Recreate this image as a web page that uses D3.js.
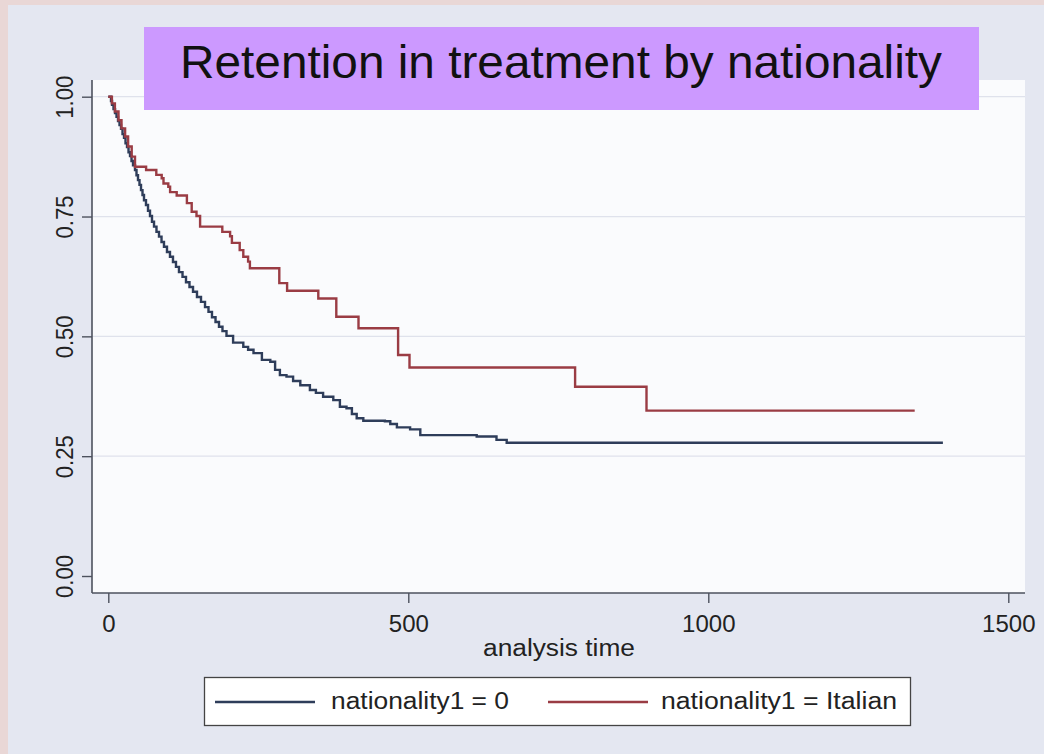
<!DOCTYPE html>
<html>
<head>
<meta charset="utf-8">
<script src="https://cdn.jsdelivr.net/npm/d3@7"></script>
<style>
html,body{margin:0;padding:0;background:#e4e7f1;}
svg{display:block;}
text{font-family:"Liberation Sans",Arial,Helvetica,sans-serif;}
</style>
</head>
<body>
<svg id="chart" width="1044" height="754"></svg>
<script>
// ---- data ----
const titleText = "Retention in treatment by nationality";
const xLabel = "analysis time";
const seriesNames = ["nationality1 = 0", "nationality1 = Italian"];
const xTicks = [0, 500, 1000, 1500];
const yTicks = [0, 0.25, 0.5, 0.75, 1];

// nationality1 = 0 : Kaplan-Meier step points (time, survival)
const blueTimes = [0, 4.5, 6.2, 8.7, 11.2, 13.7, 16.2, 18.7, 21.2, 23.7, 26.2, 28.7, 31.2, 33.7, 36.2, 38.7, 41.2, 44.5, 47, 49.5, 52, 54.5, 57, 59.5, 62.8, 66.2, 69.5, 72.8, 76.2, 80.3, 84.5, 88.7, 92.8, 97.8, 102.8, 107.8, 112.8, 117.8, 123.7, 129.5, 135.3, 141.2, 147.8, 154.5, 161.2, 167, 172.8, 178.7, 184.5, 190.3, 197, 208, 225, 233, 242, 256, 270, 278, 286, 297, 308, 320, 336, 346, 358, 375, 386, 397, 406, 414, 425, 461, 470, 481, 503, 520, 614, 647, 664, 1391];
const blueSurv  = [1, 0.991, 0.983, 0.974, 0.966, 0.958, 0.949, 0.941, 0.933, 0.922, 0.914, 0.903, 0.895, 0.884, 0.876, 0.866, 0.857, 0.847, 0.836, 0.826, 0.816, 0.805, 0.795, 0.784, 0.774, 0.762, 0.751, 0.739, 0.729, 0.718, 0.708, 0.697, 0.687, 0.676, 0.666, 0.655, 0.645, 0.634, 0.624, 0.613, 0.603, 0.593, 0.582, 0.572, 0.561, 0.551, 0.540, 0.530, 0.520, 0.511, 0.501, 0.487, 0.478, 0.472, 0.465, 0.451, 0.447, 0.430, 0.419, 0.416, 0.407, 0.398, 0.388, 0.382, 0.374, 0.367, 0.353, 0.350, 0.338, 0.329, 0.324, 0.323, 0.317, 0.310, 0.306, 0.294, 0.291, 0.284, 0.278, 0.278];

// nationality1 = Italian
const redTimes = [0, 6, 11, 17, 22, 28, 33, 39, 44.5, 63, 80, 89, 92, 100, 103, 114, 131, 139, 147, 153, 190, 203, 206, 219, 225, 233, 236, 285, 298, 350, 380, 417, 483, 502, 778, 897, 1344];
const redSurv  = [1, 0.986, 0.969, 0.951, 0.934, 0.917, 0.896, 0.875, 0.854, 0.847, 0.837, 0.830, 0.819, 0.812, 0.801, 0.794, 0.778, 0.760, 0.751, 0.729, 0.718, 0.709, 0.695, 0.680, 0.666, 0.656, 0.642, 0.611, 0.595, 0.579, 0.541, 0.517, 0.461, 0.435, 0.395, 0.345, 0.345];

const colors = ["#2e3d5a", "#9a3c44"];

// ---- drawing ----
const svg = d3.select("#chart");
const W = 1044, H = 754;

// outer slide-like border and graph region
svg.append("rect").attr("x",0).attr("y",0).attr("width",W).attr("height",H).attr("fill","#e9d7d6");
svg.append("rect").attr("x",8).attr("y",5).attr("width",W-8).attr("height",H-5).attr("fill","#e4e7f1");

const plot = {left: 92, right: 1025, top: 80, bottom: 593};
svg.append("rect").attr("x",plot.left).attr("y",plot.top)
  .attr("width",plot.right-plot.left).attr("height",plot.bottom-plot.top).attr("fill","#fafbfd");

const x = d3.scaleLinear().domain([0,1500]).range([108.3, 1008.3]);
const y = d3.scaleLinear().domain([0,1]).range([576, 96.7]);

// grid lines
svg.append("g").selectAll("line").data(yTicks.filter(d => d > 0)).join("line")
  .attr("x1", plot.left).attr("x2", plot.right)
  .attr("y1", d => y(d)).attr("y2", d => y(d))
  .attr("stroke", "#dfe2ec").attr("stroke-width", 1.3);

// curves
const line = d3.line().x(d => x(d[0])).y(d => y(d[1])).curve(d3.curveStepAfter);
const series = [
  blueTimes.map((t,i) => [t, blueSurv[i]]),
  redTimes.map((t,i) => [t, redSurv[i]])
];
series.forEach((s,i) => {
  svg.append("path").datum(s).attr("d", line)
    .attr("fill","none").attr("stroke", colors[i]).attr("stroke-width", 2.4)
    .attr("stroke-linejoin","miter");
});

// axes lines
svg.append("line").attr("x1",plot.left).attr("x2",plot.left).attr("y1",plot.top).attr("y2",plot.bottom)
  .attr("stroke","#4d525e").attr("stroke-width",1.6);
svg.append("line").attr("x1",plot.left).attr("x2",plot.right).attr("y1",plot.bottom).attr("y2",plot.bottom)
  .attr("stroke","#4d525e").attr("stroke-width",1.6);

// y axis
const yAxis = d3.axisLeft(y).tickValues(yTicks).tickFormat(d3.format(".2f")).tickSize(10).tickPadding(0);
const gy = svg.append("g").attr("transform", `translate(${plot.left},0)`).call(yAxis);
gy.select(".domain").remove();
gy.selectAll(".tick line").attr("stroke","#4d525e").attr("stroke-width",1.4);
gy.selectAll(".tick text")
  .attr("x", 0).attr("dy", 0)
  .attr("transform", "translate(-19,0) rotate(-90)")
  .attr("text-anchor","middle")
  .attr("font-size", 23).attr("fill","#222")
  .attr("textLength", 43).attr("lengthAdjust","spacingAndGlyphs");

// x axis
const xAxis = d3.axisBottom(x).tickValues(xTicks).tickFormat(d3.format("d")).tickSize(10).tickPadding(0);
const gx = svg.append("g").attr("transform", `translate(0,${plot.bottom})`).call(xAxis);
gx.select(".domain").remove();
gx.selectAll(".tick line").attr("stroke","#4d525e").attr("stroke-width",1.4);
gx.selectAll(".tick text").attr("y", 39).attr("dy", 0).attr("font-size", 24).attr("fill","#222");

// x label
svg.append("text").attr("x", 559).attr("y", 656).attr("text-anchor","middle")
  .attr("font-size", 23).attr("fill","#222")
  .attr("textLength", 152).attr("lengthAdjust","spacingAndGlyphs").text(xLabel);

// title box
svg.append("rect").attr("x",144).attr("y",27).attr("width",835).attr("height",83).attr("fill","#cc99ff");
svg.append("text").attr("x", 561).attr("y", 78).attr("text-anchor","middle")
  .attr("font-size", 46).attr("fill","#111")
  .attr("textLength", 762).attr("lengthAdjust","spacingAndGlyphs").text(titleText);

// legend
svg.append("rect").attr("x",204.5).attr("y",677.5).attr("width",706).attr("height",48)
  .attr("fill","#ffffff").attr("stroke","#444").attr("stroke-width",1.3);
const legendItems = [
  {lx1: 215, lx2: 315, tx: 331, tw: 178},
  {lx1: 548, lx2: 648, tx: 661, tw: 236}
];
legendItems.forEach((it,i) => {
  svg.append("line").attr("x1", it.lx1).attr("x2", it.lx2).attr("y1", 702).attr("y2", 702)
    .attr("stroke", colors[i]).attr("stroke-width", 2.4);
  svg.append("text").attr("x", it.tx).attr("y", 709).attr("font-size", 23).attr("fill","#222")
    .attr("textLength", it.tw).attr("lengthAdjust","spacingAndGlyphs").text(seriesNames[i]);
});
</script>
</body>
</html>
